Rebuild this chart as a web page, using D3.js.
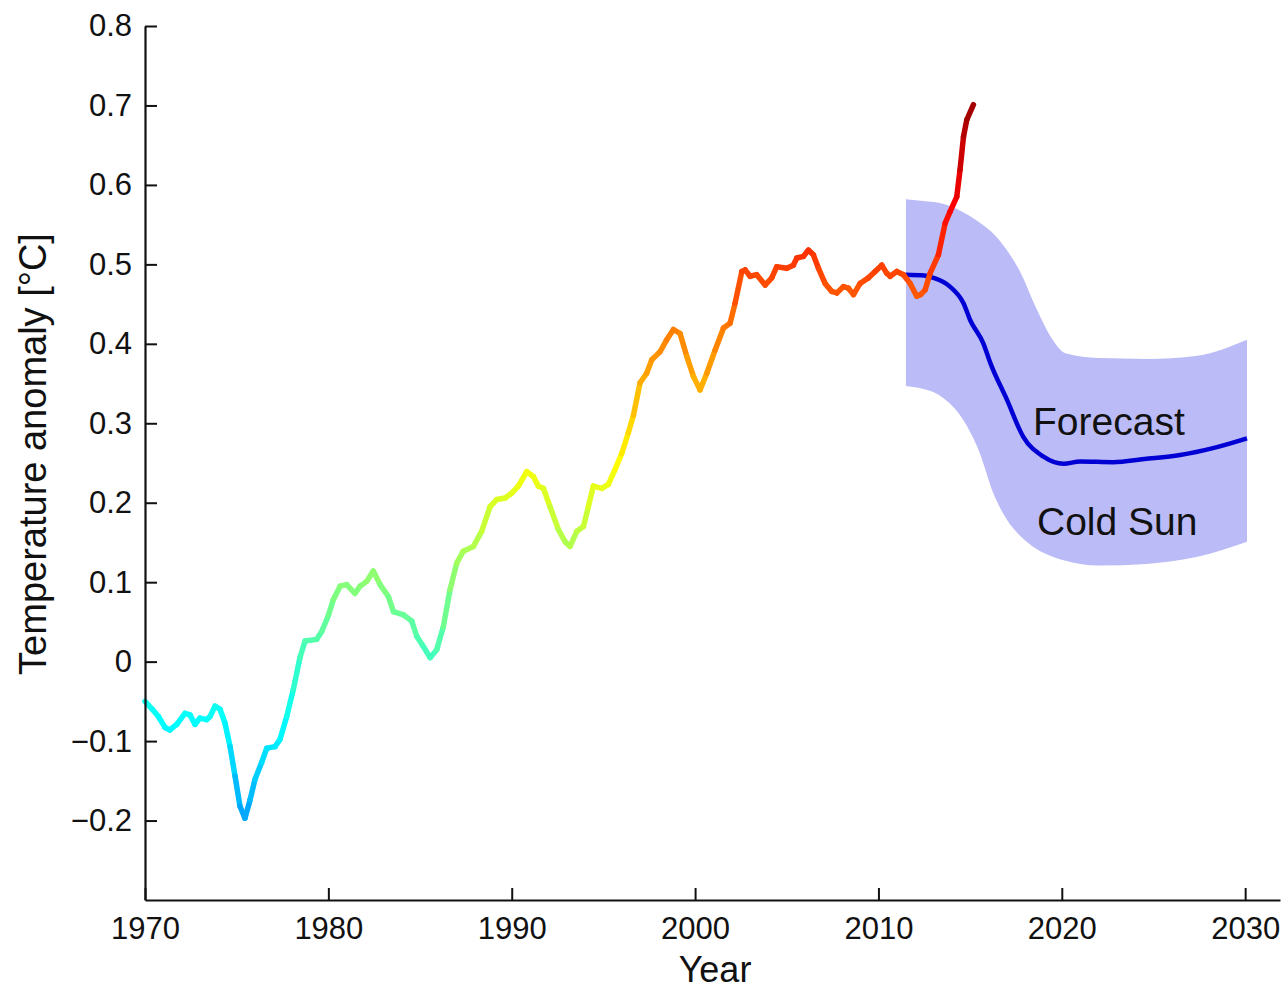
<!DOCTYPE html>
<html>
<head>
<meta charset="utf-8">
<script src="https://cdn.jsdelivr.net/npm/d3@7"></script>
<style>
  html, body { margin: 0; padding: 0; background: #fff; }
  text { font-family: "Liberation Sans", Arial, sans-serif; fill: #111; }
</style>
</head>
<body>
<div id="chart"></div>
<script>
// observed temperature anomaly (smoothed)
const obsYears = [
  1970.0, 1970.4, 1970.73, 1971.1, 1971.36, 1971.73, 1972.18, 1972.45, 1972.73, 1973.0,
  1973.36, 1973.55, 1973.82, 1974.09, 1974.36, 1974.64, 1974.91, 1975.18, 1975.45, 1975.73,
  1976.0, 1976.36, 1976.64, 1977.09, 1977.36, 1977.73, 1978.09, 1978.45, 1978.73, 1979.36,
  1979.64, 1980.0, 1980.27, 1980.64, 1981.0, 1981.45, 1981.73, 1982.09, 1982.45, 1982.82,
  1983.27, 1983.55, 1984.09, 1984.55, 1984.82, 1985.18, 1985.55, 1985.91, 1986.27, 1986.64,
  1987.0, 1987.36, 1987.91, 1988.36, 1988.82, 1989.18, 1989.64, 1990.0, 1990.36, 1990.82,
  1991.18, 1991.45, 1991.73, 1992.09, 1992.55, 1992.91, 1993.18, 1993.55, 1993.91, 1994.18,
  1994.45, 1994.91, 1995.27, 1995.64, 1996.0, 1996.36, 1996.64, 1997.0, 1997.36, 1997.64,
  1998.09, 1998.45, 1998.82, 1999.18, 1999.55, 1999.91, 2000.27, 2000.64, 2001.09, 2001.55,
  2001.91, 2002.18, 2002.55, 2002.73, 2003.0, 2003.36, 2003.82, 2004.18, 2004.45, 2005.0,
  2005.36, 2005.55, 2005.91, 2006.18, 2006.45, 2006.73, 2007.09, 2007.45, 2007.73, 2008.09,
  2008.36, 2008.64, 2009.0, 2009.45, 2009.82, 2010.18, 2010.45, 2010.64, 2011.0, 2011.36,
  2011.73, 2012.09, 2012.3, 2012.55, 2012.82, 2013.27, 2013.64, 2013.9, 2014.27, 2014.45,
  2014.64, 2014.82, 2015.18
];
const obsValues = [
  -0.050, -0.060, -0.069, -0.083, -0.086, -0.079, -0.065, -0.067, -0.079, -0.071,
  -0.073, -0.069, -0.056, -0.060, -0.077, -0.107, -0.144, -0.182, -0.197, -0.174,
  -0.148, -0.127, -0.109, -0.107, -0.098, -0.069, -0.035, 0.005, 0.026, 0.028,
  0.038, 0.058, 0.078, 0.095, 0.097, 0.086, 0.095, 0.101, 0.114, 0.097,
  0.082, 0.063, 0.059, 0.051, 0.032, 0.019, 0.005, 0.015, 0.044, 0.091,
  0.124, 0.139, 0.145, 0.164, 0.195, 0.204, 0.206, 0.212, 0.221, 0.239,
  0.233, 0.221, 0.218, 0.195, 0.166, 0.151, 0.145, 0.164, 0.170, 0.195,
  0.221, 0.218, 0.223, 0.242, 0.262, 0.288, 0.310, 0.351, 0.363, 0.380,
  0.390, 0.405, 0.418, 0.413, 0.384, 0.359, 0.342, 0.363, 0.392, 0.420,
  0.426, 0.451, 0.491, 0.493, 0.485, 0.487, 0.474, 0.483, 0.497, 0.495,
  0.499, 0.508, 0.510, 0.518, 0.512, 0.495, 0.476, 0.466, 0.464, 0.472,
  0.470, 0.462, 0.476, 0.483, 0.491, 0.499, 0.489, 0.485, 0.491, 0.487,
  0.476, 0.460, 0.462, 0.468, 0.489, 0.512, 0.552, 0.566, 0.585, 0.619,
  0.661, 0.682, 0.701
];

// forecast ("Cold Sun") central line
const fcYears = [2011.47, 2012.5, 2013.0, 2013.9, 2014.64, 2015.0, 2015.73, 2016.1, 2017.0, 2017.9,
  2019.0, 2020.1, 2021.0, 2022.8, 2024.5, 2026.45, 2028.3, 2030.1];
const fcValues = [0.487, 0.486, 0.483, 0.472, 0.451, 0.430, 0.400, 0.376, 0.330, 0.283,
  0.258, 0.249, 0.252, 0.251, 0.255, 0.260, 0.269, 0.281];

// forecast uncertainty band
const bandYears = [2011.5, 2012.3, 2013.4, 2014.6, 2015.5, 2016.3, 2017.0, 2017.7, 2018.6, 2019.5,
  2020.2, 2022.0, 2024.6, 2027.4, 2030.1];
const bandHigh = [0.582, 0.580, 0.577, 0.566, 0.553, 0.538, 0.518, 0.492, 0.445, 0.405,
  0.388, 0.382, 0.381, 0.385, 0.405];
const bandLow = [0.347, 0.344, 0.334, 0.305, 0.264, 0.210, 0.179, 0.159, 0.142, 0.132,
  0.127, 0.121, 0.123, 0.132, 0.151];

const xTicks = [1970, 1980, 1990, 2000, 2010, 2020, 2030];
const yTicks = [-0.2, -0.1, 0, 0.1, 0.2, 0.3, 0.4, 0.5, 0.6, 0.7, 0.8];

const width = 1283;
const height = 992;

// set the ranges
const x = d3.scaleLinear().domain([1970, 2031.9]).range([145, 1280]);
const y = d3.scaleLinear().domain([-0.3, 0.8]).range([900, 26]);

// jet colour map, driven by the anomaly value
const jet = (t) => {
  const c = (v) => Math.round(255 * Math.max(0, Math.min(1, v)));
  return `rgb(${c(1.5 - Math.abs(4 * t - 3))},${c(1.5 - Math.abs(4 * t - 2))},${c(1.5 - Math.abs(4 * t - 1))})`;
};
const colorT = d3.scaleLinear().domain([-0.2, 0.7]).range([0.28, 0.97]).clamp(true);

const svg = d3.select('#chart').append('svg')
  .attr('width', width)
  .attr('height', height);

// band
const band = d3.area()
  .x((d, i) => x(bandYears[i]))
  .y0((d, i) => y(bandLow[i]))
  .y1((d, i) => y(bandHigh[i]))
  .curve(d3.curveMonotoneX);

svg.append('path')
  .datum(bandYears)
  .attr('d', band)
  .attr('fill', '#bbbbf7');

// forecast line
const fcLine = d3.line()
  .x((d, i) => x(fcYears[i]))
  .y((d, i) => y(fcValues[i]))
  .curve(d3.curveMonotoneX);

svg.append('path')
  .datum(fcYears)
  .attr('d', fcLine)
  .attr('fill', 'none')
  .attr('stroke', '#0000d4')
  .attr('stroke-width', 4.5)
  .attr('stroke-linejoin', 'round');

// observed line, one segment per step so it can change colour
const segs = d3.range(obsYears.length - 1);
svg.append('g')
  .selectAll('line')
  .data(segs)
  .join('line')
  .attr('x1', (i) => x(obsYears[i]))
  .attr('y1', (i) => y(obsValues[i]))
  .attr('x2', (i) => x(obsYears[i + 1]))
  .attr('y2', (i) => y(obsValues[i + 1]))
  .attr('stroke', (i) => jet(colorT((obsValues[i] + obsValues[i + 1]) / 2)))
  .attr('stroke-width', 5.5)
  .attr('stroke-linecap', 'round');

// annotations
svg.append('text')
  .attr('x', 1033)
  .attr('y', 435)
  .style('font-size', '39px')
  .text('Forecast');

svg.append('text')
  .attr('x', 1037)
  .attr('y', 535)
  .style('font-size', '39px')
  .text('Cold Sun');

// axes
const xAxis = svg.append('g')
  .attr('transform', 'translate(0,900)')
  .call(d3.axisBottom(x).tickValues(xTicks).tickFormat(d3.format('d'))
    .tickSizeInner(-12).tickSizeOuter(0).tickPadding(17));

const yAxis = svg.append('g')
  .attr('transform', 'translate(145,0)')
  .call(d3.axisLeft(y).tickValues(yTicks)
    .tickFormat((d) => (d === 0 ? '0' : d3.format('.1f')(d)))
    .tickSizeInner(-12).tickSizeOuter(0).tickPadding(13));

[xAxis, yAxis].forEach((g) => {
  g.select('.domain').attr('stroke', '#111').attr('stroke-width', 2.2);
  g.selectAll('.tick line').attr('stroke', '#111').attr('stroke-width', 2);
  g.selectAll('.tick text')
    .attr('fill', '#111')
    .style('font-size', '31px')
    .style('font-family', '"Liberation Sans", Arial, sans-serif');
});

// axis titles
svg.append('text')
  .attr('x', 715)
  .attr('y', 982)
  .attr('text-anchor', 'middle')
  .style('font-size', '36px')
  .text('Year');

svg.append('text')
  .attr('transform', 'translate(46,454) rotate(-90)')
  .attr('text-anchor', 'middle')
  .style('font-size', '38px')
  .text('Temperature anomaly [°C]');
</script>
</body>
</html>
